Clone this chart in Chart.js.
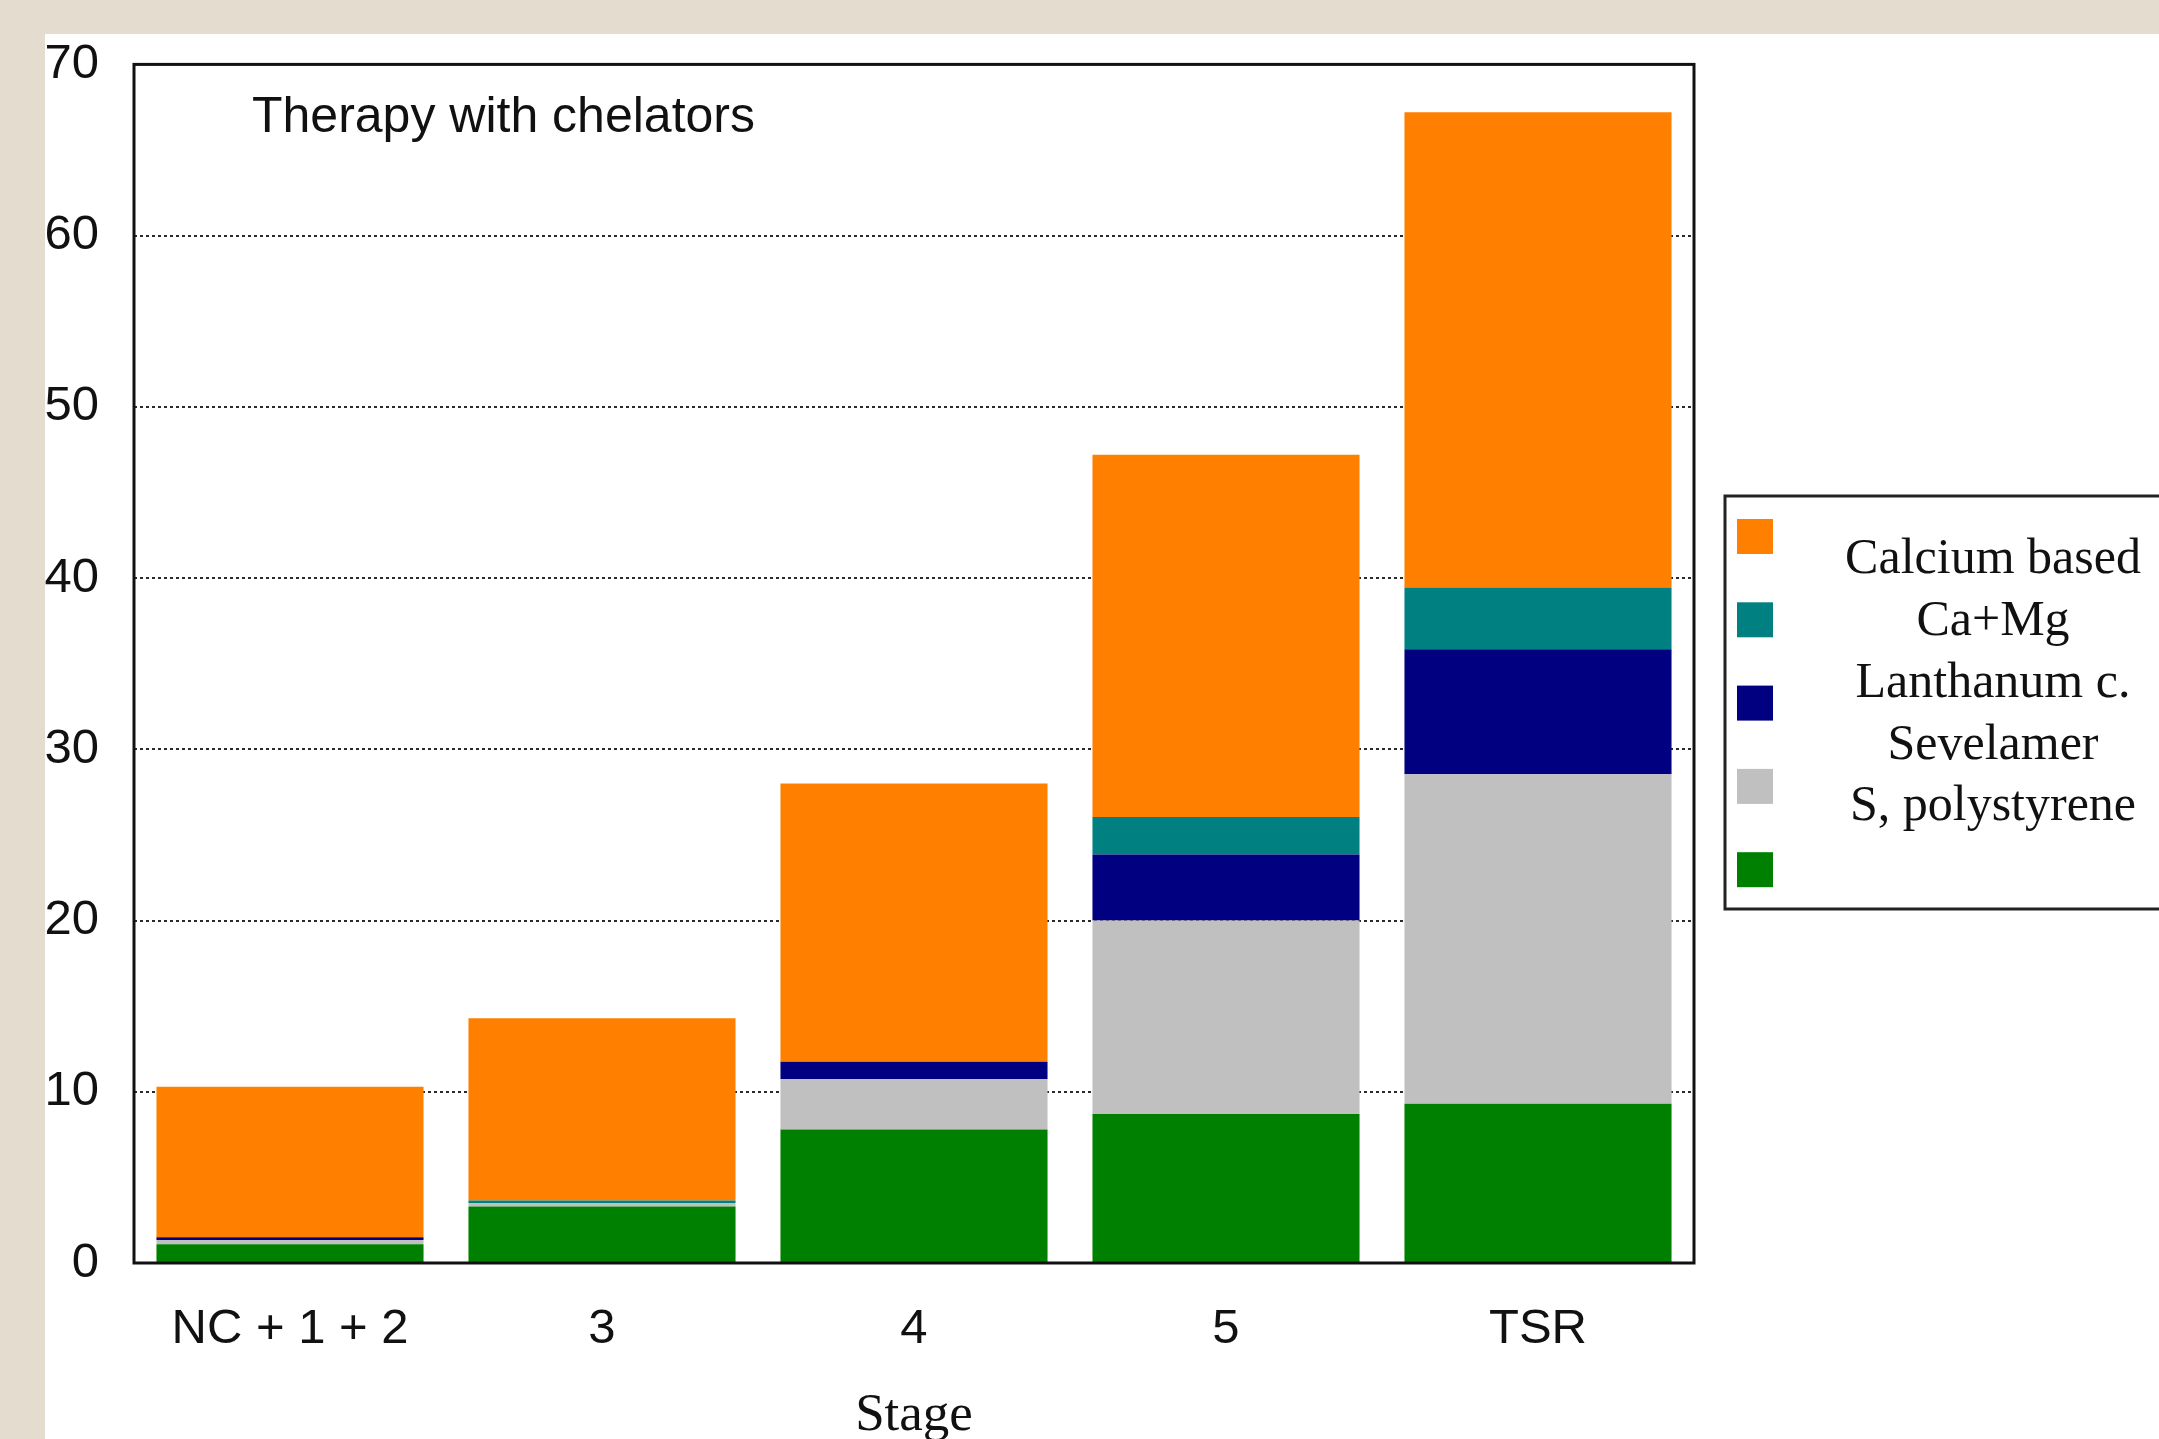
<!DOCTYPE html>
<html lang="en">
<head>
    <meta charset="UTF-8">
    <title>Therapy with chelators</title>
    <style>
body {
    margin: 0;
    padding: 0;
    background-color: #e4dccf;
    overflow: hidden;
}
#chart {
    display: block;
}
    </style>
</head>
<body>
    <canvas id="chart" width="2159" height="1439"></canvas>

    <script src="https://cdn.jsdelivr.net/npm/chart.js"></script>
    <script>
        // Stages on the x axis
        const stages = ['NC + 1 + 2', '3', '4', '5', 'TSR'];

        // Stacked values per chelator (bottom to top)
        const polystyrene = [1.1, 3.3, 7.8, 8.7, 9.3];
        const sevelamer = [0.25, 0.2, 2.95, 11.3, 19.25];
        const lanthanum = [0.15, 0, 1.0, 3.85, 7.3];
        const caMg = [0, 0.15, 0, 2.2, 3.6];
        const calcium = [8.8, 10.65, 16.25, 21.15, 27.75];

        const yTicks = [0, 10, 20, 30, 40, 50, 60, 70];

        // Legend as drawn in the picture (top to bottom)
        const legendColors = ['#ff8000', '#008080', '#000080', '#c0c0c0', '#008000'];
        const legendLabels = ['Calcium based', 'Ca+Mg', 'Lanthanum c.', 'Sevelamer', 'S, polystyrene'];

        const sans = '"Liberation Sans", Arial, sans-serif';
        const serif = '"Liberation Serif", "Times New Roman", serif';
        const ctx = document.getElementById('chart').getContext('2d');

        // Background, panel, frame, inner title and legend box
        const decorPlugin = {
            id: 'decor',
            beforeDraw(chart) {
                const c = chart.ctx;
                c.save();
                c.fillStyle = '#e4dccf';
                c.fillRect(0, 0, chart.width, chart.height);
                c.fillStyle = '#ffffff';
                c.fillRect(45, 34, chart.width - 45, chart.height - 34);
                c.restore();
            },
            afterDatasetsDraw(chart) {
                const c = chart.ctx;
                const a = chart.chartArea;
                c.save();
                c.strokeStyle = '#111';
                c.lineWidth = 3;
                c.strokeRect(a.left, a.top, a.right - a.left, a.bottom - a.top);

                c.fillStyle = '#111';
                c.font = '50px ' + sans;
                c.textBaseline = 'middle';
                c.textAlign = 'left';
                c.fillText('Therapy with chelators', 252, 118);

                // legend box
                c.strokeStyle = '#222';
                c.lineWidth = 3;
                c.strokeRect(1725, 496, 460, 413);
                legendColors.forEach((col, i) => {
                    c.fillStyle = col;
                    c.fillRect(1737, 519 + i * 83.3, 36, 35);
                });
                c.fillStyle = '#111';
                c.font = '50px ' + serif;
                c.textAlign = 'center';
                legendLabels.forEach((t, i) => {
                    c.fillText(t, 1993, 560 + i * 61.8);
                });
                c.restore();
            }
        };

        const chart = new Chart(ctx, {
            type: 'bar',
            data: {
                labels: stages,
                datasets: [
                    { label: 'S, polystyrene', data: polystyrene, backgroundColor: '#008000' },
                    { label: 'Sevelamer', data: sevelamer, backgroundColor: '#c0c0c0' },
                    { label: 'Lanthanum c.', data: lanthanum, backgroundColor: '#000080' },
                    { label: 'Ca+Mg', data: caMg, backgroundColor: '#008080' },
                    { label: 'Calcium based', data: calcium, backgroundColor: '#ff8000' }
                ]
            },
            options: {
                responsive: false,
                animation: false,
                devicePixelRatio: 1,
                layout: {
                    padding: { top: 62, right: 465, bottom: 0, left: 0 }
                },
                datasets: {
                    bar: {
                        barPercentage: 0.856,
                        categoryPercentage: 1.0,
                        borderWidth: 0
                    }
                },
                plugins: {
                    legend: { display: false },
                    tooltip: { enabled: false }
                },
                scales: {
                    x: {
                        stacked: true,
                        grid: { display: false, drawTicks: false },
                        border: { display: false },
                        ticks: {
                            color: '#111',
                            padding: 37,
                            font: { family: sans, size: 49 }
                        },
                        title: {
                            display: true,
                            text: 'Stage',
                            color: '#111',
                            padding: { top: 0, bottom: -9 },
                            font: { family: serif, size: 53 }
                        },
                        afterFit(s) { s.height = 176; }
                    },
                    y: {
                        stacked: true,
                        min: 0,
                        max: 70,
                        afterBuildTicks(s) { s.ticks = yTicks.map(v => ({ value: v })); },
                        grid: {
                            drawTicks: false,
                            lineWidth: 2,
                            color: (c) => (c.tick && (c.tick.value === 0 || c.tick.value === 70)) ? 'rgba(0,0,0,0)' : '#2a2a2a'
                        },
                        border: { display: false, dash: [3, 3] },
                        ticks: {
                            color: '#111',
                            padding: 35,
                            font: { family: sans, size: 49 }
                        },
                        afterFit(s) { s.width = 134; }
                    }
                }
            },
            plugins: [decorPlugin]
        });
    </script>
</body>
</html>
